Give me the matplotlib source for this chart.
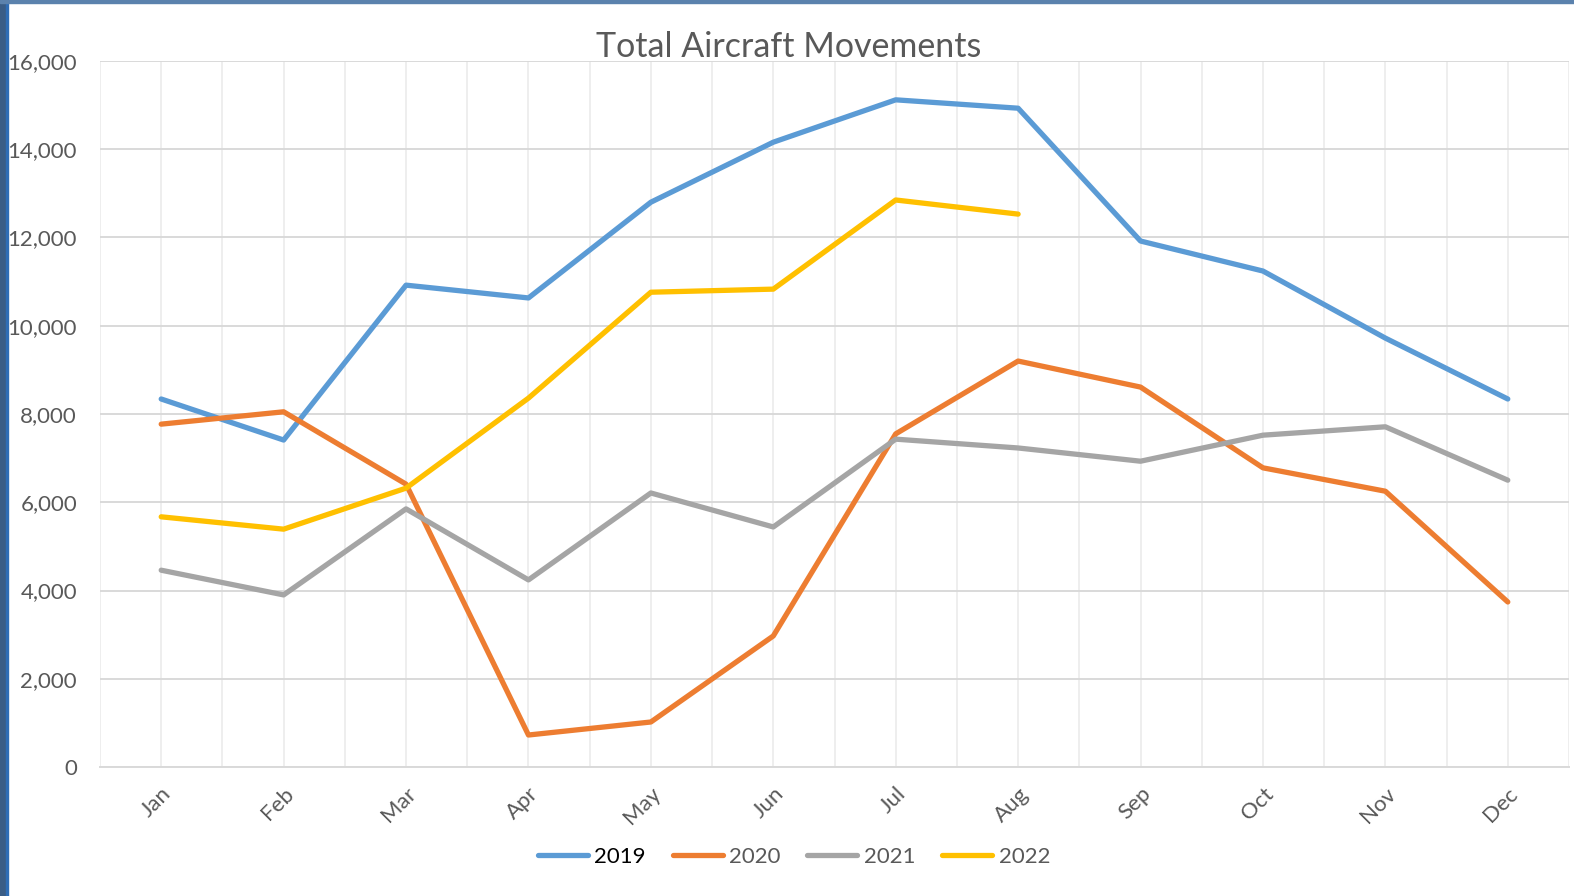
import matplotlib
matplotlib.use('Agg')
import matplotlib.pyplot as plt
from matplotlib.patches import Rectangle
from matplotlib.ticker import FuncFormatter, MultipleLocator

plt.rcParams['font.family'] = ['Lato', 'DejaVu Sans']

months = ['Jan', 'Feb', 'Mar', 'Apr', 'May', 'Jun', 'Jul', 'Aug', 'Sep', 'Oct', 'Nov', 'Dec']
y2019 = [8340, 7410, 10920, 10630, 12800, 14160, 15120, 14930, 11920, 11240, 9720, 8340]
y2020 = [7770, 8050, 6410, 725, 1020, 2970, 7550, 9200, 8610, 6780, 6250, 3740]
y2021 = [4460, 3900, 5850, 4240, 6210, 5440, 7430, 7230, 6930, 7520, 7710, 6500]
y2022 = [5670, 5390, 6320, 8360, 10760, 10830, 12850, 12530]

series = [('2019', y2019, '#5B9BD5'), ('2020', y2020, '#ED7D31'),
          ('2021', y2021, '#A5A5A5'), ('2022', y2022, '#FFC000')]

fig = plt.figure(figsize=(15.74, 8.96), dpi=100)
ax = fig.add_axes([100/1574, 129/896, 1469/1574, 706/896])

x = list(range(12))
for name, vals, col in series:
    ax.plot(x[:len(vals)], vals, color=col, lw=3.8, label=name,
            solid_capstyle='round', solid_joinstyle='round', zorder=3)

ax.set_xlim(-0.5, 11.5)
ax.set_ylim(0, 16000)
ax.yaxis.set_major_locator(MultipleLocator(2000))
ax.yaxis.set_major_formatter(FuncFormatter(lambda v, p: f'{int(v):,}'))
ax.set_xticks(x)
ax.set_xticklabels(months, rotation=45, ha='right', rotation_mode='anchor')
ax.xaxis.set_minor_locator(MultipleLocator(0.5))
ax.grid(axis='y', color='#D9D9D9', lw=1.4, zorder=0)
ax.grid(axis='x', which='both', color='#EEEEEE', lw=1.4, zorder=0)
for s in ['top', 'right', 'left']:
    ax.spines[s].set_visible(False)
ax.spines['bottom'].set_color('#D9D9D9')
ax.spines['bottom'].set_linewidth(1.4)
ax.tick_params(which='both', length=0, labelsize=16, labelcolor='#595959')
ax.tick_params(axis='y', pad=16.5)
ax.tick_params(axis='x', pad=12)

fig.text(789/1574, 1 - 47/896, 'Total Aircraft Movements', ha='center', va='center',
         fontsize=24.5, color='#595959')

leg = fig.legend(loc='center', bbox_to_anchor=(794/1574, 1 - 857/896), ncol=4,
                 frameon=False, fontsize=16, handlelength=2.25, handletextpad=0.3,
                 columnspacing=1.2)
for t in leg.get_texts():
    t.set_color('#595959')
leg.get_texts()[0].set_color('black')

# screenshot edges
fig.patches.append(Rectangle((0, 0), 6/1574, 1, transform=fig.transFigure,
                             color='#3A5D86', zorder=10))
fig.patches.append(Rectangle((6/1574, 0), 2/1574, 1, transform=fig.transFigure,
                             color='#2F6DB5', zorder=10))
fig.patches.append(Rectangle((0, 1 - 3/896), 1, 3/896, transform=fig.transFigure,
                             color='#5B82AD', zorder=10))

fig.savefig('out.png', dpi=100)
